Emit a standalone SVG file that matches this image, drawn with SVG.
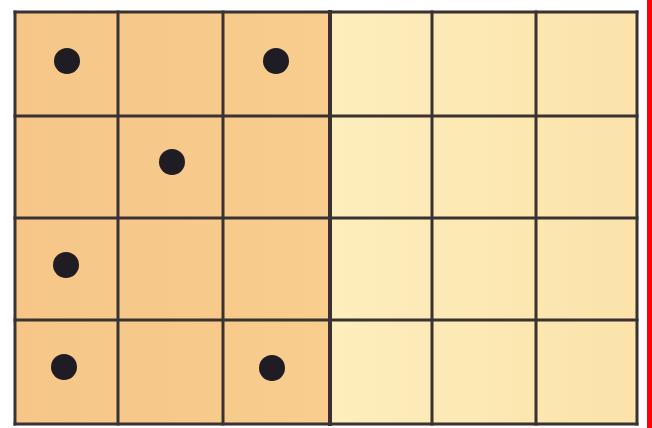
<svg xmlns="http://www.w3.org/2000/svg" width="652" height="428" viewBox="0 0 652 428">
<style>
.ln{stroke:#3a3232;stroke-width:3;fill:none;stroke-linecap:square}
.thick{stroke-width:4}
.dot{fill:#1f1c24}
</style>
<defs>
<linearGradient id="gl" x1="0" y1="0" x2="1" y2="0">
<stop offset="0" stop-color="#f5c688"/>
<stop offset="1" stop-color="#f8cd8e"/>
</linearGradient>
<linearGradient id="gr" x1="0" y1="0" x2="1" y2="0">
<stop offset="0" stop-color="#fdeebc"/>
<stop offset="1" stop-color="#fbe3aa"/>
</linearGradient>
</defs>
<rect width="652" height="428" fill="#ffffff"/>
<g id="board">
<rect x="15" y="12" width="315" height="412" fill="url(#gl)"/>
<rect x="330" y="12" width="307" height="412" fill="url(#gr)"/>
</g>
<g id="grid">
<line class="ln" x1="15" y1="12" x2="637" y2="12"/>
<line class="ln" x1="15" y1="116" x2="637" y2="116"/>
<line class="ln" x1="15" y1="218" x2="637" y2="218"/>
<line class="ln" x1="15" y1="320" x2="637" y2="320"/>
<line class="ln" x1="15" y1="424" x2="637" y2="424"/>
<line class="ln" x1="15" y1="12" x2="15" y2="424"/>
<line class="ln" x1="118" y1="12" x2="118" y2="424"/>
<line class="ln" x1="223" y1="12" x2="223" y2="424"/>
<line class="ln thick" x1="330" y1="12" x2="330" y2="424"/>
<line class="ln" x1="432" y1="12" x2="432" y2="424"/>
<line class="ln" x1="536" y1="12" x2="536" y2="424"/>
<line class="ln" x1="637" y1="12" x2="637" y2="424"/>
</g>
<g id="dots">
<circle class="dot" cx="67" cy="61" r="13"/>
<circle class="dot" cx="276" cy="61" r="13"/>
<circle class="dot" cx="172" cy="162" r="13"/>
<circle class="dot" cx="66" cy="265" r="13"/>
<circle class="dot" cx="64" cy="367" r="13"/>
<circle class="dot" cx="272" cy="368" r="13"/>
</g>
<rect x="647" y="0" width="5" height="428" fill="#ff0000"/>
</svg>
